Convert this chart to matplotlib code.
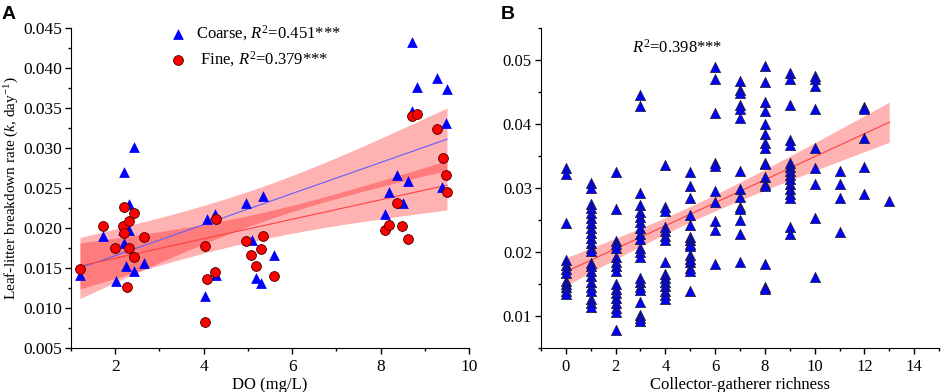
import numpy as np
import matplotlib
matplotlib.use('Agg')
import matplotlib.pyplot as plt
from matplotlib.ticker import MultipleLocator, FormatStrFormatter

plt.rcParams['font.family'] = ['Liberation Serif', 'DejaVu Serif']
plt.rcParams['mathtext.fontset'] = 'custom'
plt.rcParams['mathtext.rm'] = 'Liberation Serif'
plt.rcParams['mathtext.it'] = 'Liberation Serif:italic'

# panel A: DO vs breakdown rate
coarse_do = [1.20, 1.72, 2.01, 2.20, 2.43, 2.32, 2.17, 2.30, 2.19, 2.25, 2.43, 2.66,
             4.04, 4.08, 4.25, 4.28, 4.95, 5.10, 5.34, 5.18, 5.30, 5.60,
             8.11, 8.19, 8.38, 8.50, 8.61, 8.70, 8.83, 8.72, 9.27, 9.50, 9.48, 9.39]
coarse_k = [0.0142, 0.0190, 0.0134, 0.0270, 0.0301, 0.0230, 0.0198, 0.0198, 0.0181, 0.0153, 0.0147, 0.0156,
            0.0115, 0.0211, 0.0218, 0.0141, 0.0232, 0.0185, 0.0240, 0.0138, 0.0131, 0.0166,
            0.0218, 0.0245, 0.0267, 0.0232, 0.0259, 0.0433, 0.0377, 0.0346, 0.0388, 0.0374, 0.0331, 0.0252]

fine_do = [1.20, 1.72, 2.00, 2.20, 2.17, 2.20, 2.30, 2.30, 2.43, 2.43, 2.26, 2.66,
           4.04, 4.08, 4.04, 4.27, 4.25, 4.95, 5.08, 5.19, 5.30, 5.35, 5.60,
           8.11, 8.19, 8.38, 8.49, 8.61, 8.70, 8.83, 9.27, 9.40, 9.48, 9.50]
fine_k = [0.0149, 0.0203, 0.0175, 0.0227, 0.0203, 0.0194, 0.0209, 0.0175, 0.0219, 0.0164, 0.0126, 0.0189,
          0.0178, 0.0136, 0.0083, 0.0212, 0.0145, 0.0184, 0.0167, 0.0153, 0.0174, 0.0190, 0.0140,
          0.0198, 0.0204, 0.0231, 0.0203, 0.0186, 0.0340, 0.0343, 0.0324, 0.0288, 0.0267, 0.0245]

# panel B: collector-gatherer richness vs breakdown rate (one list per richness value)
cg_rate = {
    0: [0.0331, 0.0322, 0.0245, 0.0188, 0.0180, 0.0174, 0.0168, 0.0155, 0.0150, 0.0145, 0.0140, 0.0134],
    1: [0.0308, 0.0300, 0.0276, 0.0269, 0.0261, 0.0253, 0.0245, 0.0237, 0.0230, 0.0222, 0.0214, 0.0206,
        0.0201, 0.0183, 0.0178, 0.0170, 0.0162, 0.0154, 0.0146, 0.0139, 0.0126, 0.0120, 0.0115],
    2: [0.0326, 0.0268, 0.0217, 0.0212, 0.0207, 0.0192, 0.0185, 0.0178, 0.0171, 0.0150, 0.0143, 0.0136,
        0.0128, 0.0121, 0.0113, 0.0106, 0.0078],
    3: [0.0445, 0.0428, 0.0292, 0.0273, 0.0262, 0.0255, 0.0247, 0.0237, 0.0228, 0.0220, 0.0206, 0.0200,
        0.0192, 0.0159, 0.0153, 0.0146, 0.0141, 0.0122, 0.0102, 0.0097, 0.0092],
    4: [0.0336, 0.0271, 0.0265, 0.0240, 0.0233, 0.0226, 0.0219, 0.0185, 0.0166, 0.0160, 0.0154, 0.0147,
        0.0139, 0.0133, 0.0127],
    5: [0.0326, 0.0303, 0.0284, 0.0258, 0.0243, 0.0224, 0.0219, 0.0213, 0.0209, 0.0196, 0.0190, 0.0185,
        0.0175, 0.0171, 0.0140],
    6: [0.0490, 0.0470, 0.0418, 0.0339, 0.0334, 0.0296, 0.0279, 0.0248, 0.0234, 0.0182],
    7: [0.0468, 0.0453, 0.0449, 0.0430, 0.0424, 0.0409, 0.0327, 0.0298, 0.0286, 0.0271, 0.0267, 0.0250,
        0.0228, 0.0185],
    8: [0.0491, 0.0466, 0.0435, 0.0420, 0.0400, 0.0385, 0.0371, 0.0362, 0.0340, 0.0337, 0.0317, 0.0307,
        0.0304, 0.0181, 0.0145, 0.0142],
    9: [0.0480, 0.0471, 0.0430, 0.0375, 0.0367, 0.0339, 0.0333, 0.0327, 0.0320, 0.0314, 0.0307, 0.0299,
        0.0291, 0.0284, 0.0239, 0.0228],
    10: [0.0475, 0.0471, 0.0460, 0.0424, 0.0363, 0.0331, 0.0306, 0.0254, 0.0161],
    11: [0.0327, 0.0306, 0.0285, 0.0231],
    12: [0.0427, 0.0423, 0.0379, 0.0333, 0.0291],
    13: [0.0280],
}

coarse_label = r'Coarse, $\mathit{R}^{2}$=0.451***'
fine_label = r' Fine, $\mathit{R}^{2}$=0.379***'
cg_label = r'$\mathit{R}^{2}$=0.398***'


def fit_band(x, y, t):
    # least squares line and its 95% confidence band
    x = np.asarray(x); y = np.asarray(y)
    b, a = np.polyfit(x, y, 1)
    n = len(x)
    s = np.sqrt(np.sum((y - (a + b * x)) ** 2) / (n - 2))
    xm = x.mean()
    sxx = np.sum((x - xm) ** 2)
    xs = np.linspace(x.min(), x.max(), 100)
    half = t * s * np.sqrt(1.0 / n + (xs - xm) ** 2 / sxx)
    return xs, a + b * xs, half


fig = plt.figure(figsize=(9.41, 3.92), dpi=100)
axA = fig.add_axes([0.0755, 0.112, 0.423, 0.816])
axB = fig.add_axes([0.5749, 0.112, 0.423, 0.816])

for ax in (axA, axB):
    ax.spines['top'].set_visible(False)
    ax.spines['right'].set_visible(False)
    ax.tick_params(which='major', direction='out', length=4.5, width=1)
    ax.tick_params(which='minor', direction='out', length=2.5, width=1)
    ax.tick_params(axis='y', pad=2)

# ---- A
xs, yc, hc = fit_band(coarse_do, coarse_k, 2.04)
axA.fill_between(xs, yc - hc, yc + hc, color='red', alpha=0.3, lw=0, zorder=1)
xs2, yf, hf = fit_band(fine_do, fine_k, 2.04)
axA.fill_between(xs2, yf - hf, yf + hf, color='red', alpha=0.3, lw=0, zorder=1)
axA.plot(xs, yc, color='#6060ff', lw=0.8, zorder=2)
axA.plot(xs2, yf, color='#ff4040', lw=0.8, zorder=2)
axA.scatter(coarse_do, coarse_k, marker='^', s=60, color='blue', lw=0, zorder=3, label=coarse_label)
axA.scatter(fine_do, fine_k, marker='o', s=50, color='red', edgecolor='#400000', lw=0.6, zorder=4,
            label=fine_label)

axA.set_xlim(1, 10)
axA.set_ylim(0.005, 0.045)
axA.xaxis.set_major_locator(MultipleLocator(2))
axA.xaxis.set_minor_locator(MultipleLocator(1))
axA.yaxis.set_major_locator(MultipleLocator(0.005))
axA.yaxis.set_minor_locator(MultipleLocator(0.0025))
axA.yaxis.set_major_formatter(FormatStrFormatter('%.3f'))
axA.tick_params(labelsize=12.5)
axA.set_xlabel('DO (mg/L)', fontsize=12, labelpad=1)
axA.set_ylabel(r'Leaf-litter breakdown rate ($\mathit{k}$, day$^{-1}$)', fontsize=11)
axA.yaxis.set_label_coords(-0.126, 0.5)
axA.legend(loc='upper left', bbox_to_anchor=(0.22, 1.035), frameon=False, fontsize=12,
           handletextpad=0.35, labelspacing=0.35, borderaxespad=0, handlelength=1.5)

# ---- B
cg_x = []
cg_y = []
for r in cg_rate:
    cg_x += [r] * len(cg_rate[r])
    cg_y += cg_rate[r]
xs3, yb, hb = fit_band(cg_x, cg_y, 1.97)
axB.fill_between(xs3, yb - hb, yb + hb, color='red', alpha=0.3, lw=0, zorder=1)
axB.plot(xs3, yb, color='#ff4040', lw=0.8, zorder=2)
axB.scatter(cg_x, cg_y, marker='^', s=55, color='blue', edgecolor='#202020', lw=0.5, zorder=3)
axB.text(2.65, 0.0519, cg_label, fontsize=12, va='center', ha='left')

axB.set_xlim(-1, 15)
axB.set_ylim(0.005, 0.055)
axB.xaxis.set_major_locator(MultipleLocator(2))
axB.xaxis.set_minor_locator(MultipleLocator(1))
axB.yaxis.set_major_locator(MultipleLocator(0.01))
axB.yaxis.set_minor_locator(MultipleLocator(0.005))
axB.yaxis.set_major_formatter(FormatStrFormatter('%.2f'))
axB.tick_params(labelsize=12)
axB.set_xlabel('Collector-gatherer richness', fontsize=12, labelpad=1)

fig.text(0.002, 0.985, 'A', fontsize=14, fontweight='bold', family='Liberation Sans', va='top')
fig.text(0.532, 0.985, 'B', fontsize=14, fontweight='bold', family='Liberation Sans', va='top')

fig.savefig('out.png', dpi=100)
